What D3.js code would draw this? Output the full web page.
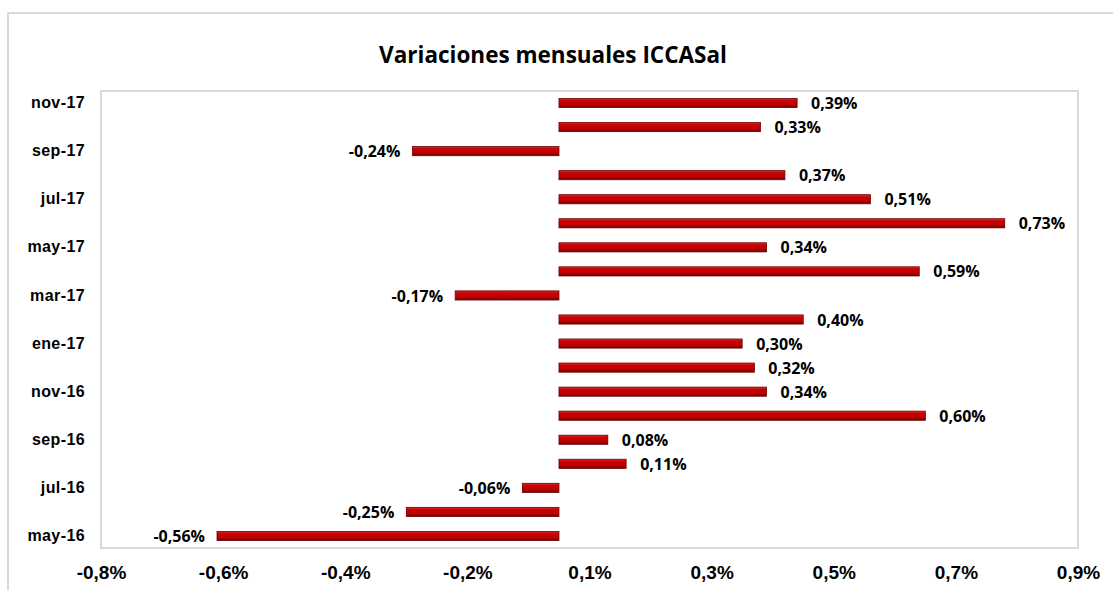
<!DOCTYPE html>
<html><head><meta charset="utf-8">
<script src="https://cdn.jsdelivr.net/npm/d3@7"></script>
<style>
html,body{margin:0;padding:0;background:#fff;}
svg{display:block;font-family:"Liberation Sans",Arial,sans-serif;}
</style></head>
<body>
<svg id="chart" width="1113" height="590"></svg>
<script>
const categories = ["may-16","jun-16","jul-16","ago-16","sep-16","oct-16","nov-16","dic-16","ene-17","feb-17","mar-17","abr-17","may-17","jun-17","jul-17","ago-17","sep-17","oct-17","nov-17"];
const values = [-0.56,-0.25,-0.06,0.11,0.08,0.60,0.34,0.32,0.30,0.40,-0.17,0.59,0.34,0.73,0.51,0.37,-0.24,0.33,0.39];
const tickValues = [-0.75,-0.55,-0.35,-0.15,0.05,0.25,0.45,0.65,0.85];
const tickLabels = ["-0,8%","-0,6%","-0,4%","-0,2%","0,1%","0,3%","0,5%","0,7%","0,9%"];
const title = "Variaciones mensuales ICCASal";

const svg = d3.select("#chart");
const plot = {left:101, right:1078, top:91, bottom:548};

// outer chart border
svg.append("rect").attr("x",8).attr("y",13).attr("width",1120).attr("height",600)
  .attr("fill","#fff").attr("stroke","#d9d9d9").attr("stroke-width",2);

const defs = svg.append("defs");
const grad = defs.append("linearGradient").attr("id","barGrad").attr("x1",0).attr("y1",0).attr("x2",0).attr("y2",1);
grad.append("stop").attr("offset","0%").attr("stop-color","#d83030");
grad.append("stop").attr("offset","25%").attr("stop-color","#cc0000");
grad.append("stop").attr("offset","70%").attr("stop-color","#b80000");
grad.append("stop").attr("offset","100%").attr("stop-color","#700000");

const x = d3.scaleLinear().domain([-0.75,0.85]).range([plot.left, plot.right]);
const y = d3.scaleBand().domain(categories.slice().reverse()).range([plot.top, plot.bottom]).paddingInner(0.62).paddingOuter(0.31);

// plot frame
svg.append("rect").attr("x",plot.left).attr("y",plot.top)
  .attr("width",plot.right-plot.left).attr("height",plot.bottom-plot.top)
  .attr("fill","none").attr("stroke","#d9d9d9").attr("stroke-width",2);

// title
svg.append("text").attr("x",553).attr("y",63).attr("text-anchor","middle")
  .attr("font-family","'Open Sans', sans-serif")
  .attr("font-size",22.5).attr("font-weight","bold").attr("fill","#000").text(title);

const data = categories.map((c,i)=>({cat:c, v:values[i]}));

// bars
svg.append("g").selectAll("rect").data(data).join("rect")
  .attr("x",d=>x(Math.min(0,d.v)))
  .attr("y",d=>y(d.cat))
  .attr("width",d=>Math.abs(x(d.v)-x(0)))
  .attr("height",y.bandwidth())
  .attr("fill","url(#barGrad)")
  .attr("stroke","#6a0000").attr("stroke-width",0.8);

// value labels
svg.append("g").selectAll("text").data(data).join("text")
  .attr("x",d=>d.v>=0 ? x(d.v)+14 : x(d.v)-12)
  .attr("y",d=>y(d.cat)+y.bandwidth()/2)
  .attr("dy","0.38em")
  .attr("text-anchor",d=>d.v>=0?"start":"end")
  .attr("font-family","'Open Sans', sans-serif")
  .attr("font-size",16).attr("font-weight","bold").attr("fill","#000")
  .text(d=>d3.format(".2f")(d.v).replace("\u2212","-").replace(".",",")+"%");

// y axis
const yAxis = d3.axisLeft(y).tickSize(0).tickPadding(16)
  .tickValues(categories.filter((c,i)=>i%2===0));
const gy = svg.append("g").attr("transform",`translate(${plot.left},0)`).call(yAxis);
gy.select(".domain").remove();
gy.selectAll("text").attr("font-size",16).attr("font-weight","bold").attr("fill","#000")
  .attr("letter-spacing","0.4px")
  .attr("font-family","Liberation Sans, Arial, sans-serif");

// x axis
const xAxis = d3.axisBottom(x).tickValues(tickValues).tickSize(0).tickPadding(18)
  .tickFormat((d,i)=>tickLabels[i]);
const gx = svg.append("g").attr("transform",`translate(0,${plot.bottom})`).call(xAxis);
gx.select(".domain").remove();
gx.selectAll("text").attr("font-size",19).attr("font-weight","bold").attr("fill","#000")
  .attr("font-family","Liberation Sans, Arial, sans-serif");
</script>
</body></html>
